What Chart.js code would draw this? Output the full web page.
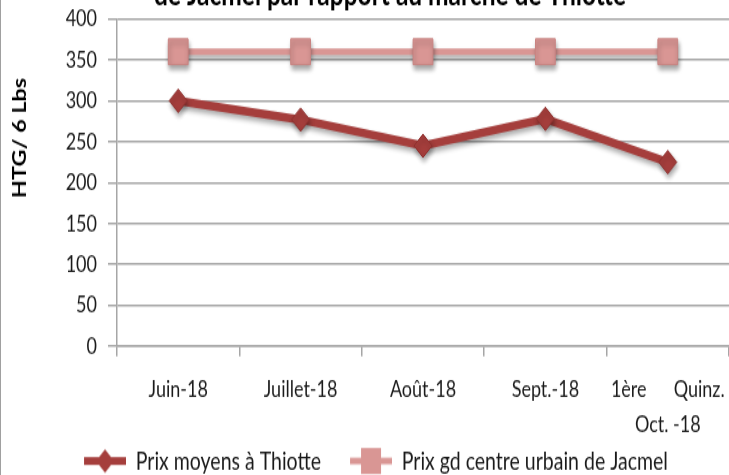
<!DOCTYPE html>
<html>
<head>
<meta charset="utf-8">
<script src="https://cdn.jsdelivr.net/npm/chart.js@4.4.0/dist/chart.umd.min.js"></script>
<style>
  html, body { margin: 0; padding: 0; background: #fff; overflow: hidden; }
  /* the reference is stretched vertically, so the canvas is too */
  #wrap { position: absolute; left: 0; top: 0; width: 729px; height: 365px; transform: scaleY(1.3014); transform-origin: 0 0; }
  #edge { position: absolute; left: 0; top: 0; width: 1px; height: 475px; background: #a0a0a0; }
</style>
</head>
<body>
<div id="wrap"><canvas id="chart"></canvas></div>
<div id="edge"></div>
<script>
const categories = ['Juin-18', 'Juillet-18', 'Août-18', 'Sept.-18', ['1ère\u2003\u2002 Quinz.', 'Oct. -18']];
const prixThiotte = [300, 277, 245, 278, 225];
const prixJacmel = [360, 360, 360, 360, 360];
const yMin = 0, yMax = 400, yStep = 50;
const seriesNames = ['Prix moyens à Thiotte', 'Prix gd centre urbain de Jacmel'];
const titleText = 'de Jacmel par rapport au marché de Thiotte';
const yTitle = 'HTG/ 6 Lbs';

const rouge = '#A53E3C';
const rose = '#D99694';
const grille = '#A6A6A6';
const police = 'Lato, "Open Sans", sans-serif';

Chart.defaults.font.family = police;
Chart.defaults.font.size = 18;
Chart.defaults.color = '#1a1a1a';

// legend icons: line + marker, like the Excel legend
function legendIcon(kind) {
  const c = document.createElement('canvas');
  c.width = 63; c.height = 28;
  const g = c.getContext('2d');
  const cx = 42, cy = 14;
  g.strokeStyle = kind === 'diamond' ? rouge : rose;
  g.lineWidth = kind === 'diamond' ? 6 : 5;
  g.beginPath(); g.moveTo(21, cy); g.lineTo(63, cy); g.stroke();
  g.fillStyle = kind === 'diamond' ? rouge : rose;
  if (kind === 'diamond') {
    g.beginPath();
    g.moveTo(cx, cy - 9); g.lineTo(cx + 9, cy); g.lineTo(cx, cy + 9); g.lineTo(cx - 9, cy);
    g.closePath(); g.fill();
  } else {
    g.fillRect(cx - 10, cy - 10, 20, 20);
  }
  return c;
}
const icons = [legendIcon('diamond'), legendIcon('square')];

const ombre = {
  id: 'ombre',
  beforeDatasetDraw(chart) {
    const ctx = chart.ctx;
    ctx.save();
    ctx.shadowColor = 'rgba(0,0,0,0.35)';
    ctx.shadowBlur = 4;
    ctx.shadowOffsetX = 1;
    ctx.shadowOffsetY = 3;
  },
  afterDatasetDraw(chart) {
    chart.ctx.restore();
  }
};

const textes = {
  id: 'textes',
  afterDraw(chart) {
    const ctx = chart.ctx;
    ctx.save();
    ctx.fillStyle = '#000';
    ctx.textAlign = 'center';
    ctx.font = 'bold 24.5px ' + police;
    ctx.textBaseline = 'alphabetic';
    ctx.fillText(titleText, 390, 3.8);
    ctx.translate(20, 106);
    ctx.rotate(-Math.PI / 2);
    ctx.font = 'bold 18px ' + police;
    ctx.textBaseline = 'middle';
    ctx.fillText(yTitle, 0, 0);
    ctx.restore();
  }
};

function noPadding(scale) {
  scale.paddingTop = 0;
  scale.paddingBottom = 0;
  scale.paddingLeft = 0;
  scale.paddingRight = 0;
}

new Chart(document.getElementById('chart'), {
  type: 'line',
  data: {
    labels: categories,
    datasets: [
      {
        label: seriesNames[0],
        data: prixThiotte,
        borderColor: rouge,
        backgroundColor: rouge,
        borderWidth: 6.5,
        pointStyle: 'rectRot',
        pointRadius: 9,
        pointHoverRadius: 9,
        pointBackgroundColor: rouge,
        pointBorderColor: '#8f302e',
        pointBorderWidth: 1
      },
      {
        label: seriesNames[1],
        data: prixJacmel,
        borderColor: rose,
        backgroundColor: rose,
        borderWidth: 5,
        pointStyle: 'rect',
        pointRadius: 14,
        pointHoverRadius: 14,
        pointBackgroundColor: rose,
        pointBorderColor: '#c98482',
        pointBorderWidth: 1
      }
    ]
  },
  options: {
    responsive: true,
    maintainAspectRatio: false,
    animation: false,
    devicePixelRatio: 1,
    layout: { autoPadding: false, padding: { top: 14.6, left: 0, right: -2, bottom: -9 } },
    plugins: {
      legend: {
        position: 'bottom',
        labels: {
          usePointStyle: true,
          pointStyleWidth: 63,
          padding: 8,
          color: '#1a1a1a',
          font: { size: 19.5 },
          generateLabels(chart) {
            const items = Chart.defaults.plugins.legend.labels.generateLabels(chart);
            items.forEach((it, i) => { it.pointStyle = icons[i]; });
            return items;
          }
        }
      },
      tooltip: { enabled: false }
    },
    scales: {
      x: {
        offset: true,
        grid: { offset: true, drawOnChartArea: false, tickLength: 7.7, color: grille, lineWidth: 1.5 },
        border: { color: grille, width: 1.5 },
        ticks: { padding: 11.5, maxRotation: 0, autoSkip: false, font: { size: 18, lineHeight: 1.5 } },
        afterFit(scale) { scale.height = 70.5; noPadding(scale); }
      },
      y: {
        min: yMin,
        max: yMax,
        ticks: { stepSize: yStep, padding: 11 },
        grid: { color: grille, lineWidth: 1.5, tickLength: 9 },
        border: { color: grille, width: 1.5 },
        afterFit(scale) { scale.width = 117; noPadding(scale); }
      }
    }
  },
  plugins: [ombre, textes]
});
</script>
</body>
</html>
